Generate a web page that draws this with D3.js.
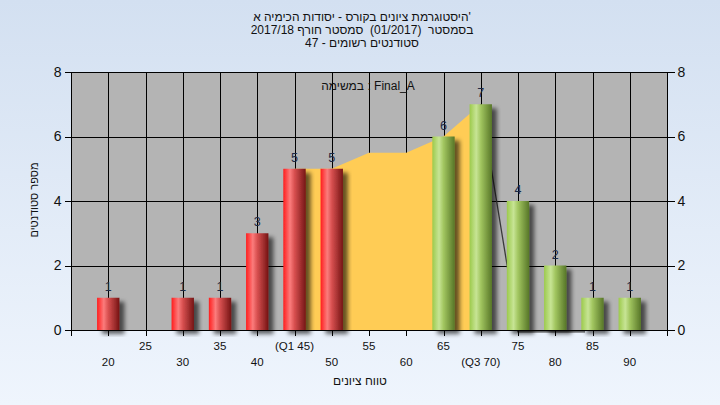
<!DOCTYPE html>
<html><head><meta charset="utf-8">
<script src="https://cdn.jsdelivr.net/npm/d3@7"></script>
<style>
html,body{margin:0;padding:0;}
body{width:720px;height:405px;overflow:hidden;}
text{font-family:"Liberation Sans",Arial,sans-serif;white-space:pre;}
</style></head>
<body>
<svg id="chart" width="720" height="405"></svg>
<script>
// ---- data ----
const categories = [20,25,30,35,40,45,50,55,60,65,70,75,80,85,90];
const counts     = [1,0,1,1,3,5,5,0,0,6,7,4,2,1,1];
const barGroups  = ["low","low","low","low","low","low","low","none","none","high","high","high","high","high","high"];
const tickLabels = ["20","25","30","35","40","(Q1 45)","50","55","60","65","(Q3 70)","75","80","85","90"];
const yTicks = [0,2,4,6,8];
const iqrX = [45,50,55,60,65,70];
const iqrY = [5,5,5.5,5.5,6,7];
const lineX = [70,75,84];
const lineY = [7,-0.06,-0.06];
const titleLines = ["היסטוגרמת ציונים בקורס - יסודות הכימיה א'","בסמסטר  (01/2017)  סמסטר חורף 2017/18","סטודנטים רשומים - 47"];
const taskLabel = "במשימה : Final_A";
const xTitle = "טווח ציונים";
const yTitle = "מספר סטודנטים";

// ---- layout ----
const W = 720, H = 405;
const P = {l:71, r:667, t:72, b:330};
const svg = d3.select("#chart");
const x = d3.scaleLinear().domain([15,95]).range([P.l,P.r]);
const y = d3.scaleLinear().domain([0,8]).range([P.b,P.t]);
const barW = x(21.5) - x(18.5);

const defs = svg.append("defs");
const bg = defs.append("linearGradient").attr("id","bg").attr("x1",0).attr("y1",0).attr("x2",0).attr("y2",1);
bg.append("stop").attr("offset","0%").attr("stop-color","#d3e0f1");
bg.append("stop").attr("offset","100%").attr("stop-color","#eff5fd");

function cyl(id, stops){
  const g = defs.append("linearGradient").attr("id",id).attr("x1",0).attr("y1",0).attr("x2",1).attr("y2",0);
  stops.forEach(s=>g.append("stop").attr("offset",s[0]).attr("stop-color",s[1]));
}
cyl("red",[["0%","#ff1c1c"],["30%","#fb7c7c"],["50%","#d85050"],["100%","#751414"]]);
cyl("green",[["0%","#9cca4c"],["30%","#c7e495"],["50%","#a2c660"],["100%","#577628"]]);

const f = defs.append("filter").attr("id","shadow").attr("x","-20%").attr("y","-20%").attr("width","160%").attr("height","140%");
f.append("feDropShadow").attr("dx",5).attr("dy",4).attr("stdDeviation",2.2).attr("flood-color","#000").attr("flood-opacity",0.6);

defs.append("clipPath").attr("id","plotclip").append("rect")
  .attr("x",P.l).attr("y",P.t).attr("width",P.r-P.l).attr("height",P.b-P.t+3);

svg.append("rect").attr("width",W).attr("height",H).attr("fill","url(#bg)");

// plot background
svg.append("rect").attr("x",P.l).attr("y",P.t).attr("width",P.r-P.l).attr("height",P.b-P.t).attr("fill","#b4b4b4");

// grid
const grid = svg.append("g").attr("stroke","#000").attr("stroke-width",1).attr("shape-rendering","crispEdges");
categories.forEach(c=>grid.append("line").attr("x1",Math.round(x(c))+0.5).attr("x2",Math.round(x(c))+0.5).attr("y1",P.t).attr("y2",P.b));
yTicks.forEach(t=>grid.append("line").attr("x1",P.l).attr("x2",P.r).attr("y1",Math.round(y(t))+0.5).attr("y2",Math.round(y(t))+0.5));

// IQR area
svg.append("path")
  .datum(iqrX.map((v,i)=>[v,iqrY[i]]))
  .attr("fill","#ffcc55")
  .attr("d", d3.area().x(d=>x(d[0])).y0(y(0)).y1(d=>y(d[1])));

// line
svg.append("path")
  .datum(lineX.map((v,i)=>[v,lineY[i]]))
  .attr("fill","none").attr("stroke","#3a3a3a").attr("stroke-width",1.3)
  .attr("clip-path","url(#plotclip)")
  .attr("d", d3.line().x(d=>x(d[0])).y(d=>y(d[1])));

// bars
const bars = categories.map((c,i)=>({c, v:counts[i], g:barGroups[i]})).filter(d=>d.v>0);
svg.append("g").selectAll("rect").data(bars).join("rect")
  .attr("x",d=>x(d.c)-barW/2).attr("width",barW)
  .attr("y",d=>y(d.v)).attr("height",d=>y(0)-y(d.v))
  .attr("fill",d=>d.g==="low"?"url(#red)":"url(#green)")
  .attr("filter","url(#shadow)");

// data labels
svg.append("g").selectAll("text").data(bars).join("text")
  .attr("x",d=>x(d.c)).attr("y",d=>y(d.v)-7)
  .attr("text-anchor","middle").attr("font-size",12.5).attr("fill","#1d2a44")
  .text(d=>d.v);

// axes frame
const frame = svg.append("g").attr("stroke","#000").attr("stroke-width",1).attr("shape-rendering","crispEdges");
frame.append("line").attr("x1",P.l).attr("x2",P.r).attr("y1",P.t+0.5).attr("y2",P.t+0.5);

const axL = svg.append("g").attr("transform",`translate(${P.l+0.5},0)`)
  .call(d3.axisLeft(y).tickValues(yTicks).tickSize(7).tickPadding(3).tickFormat(d3.format("d")));
const axR = svg.append("g").attr("transform",`translate(${P.r+0.5},0)`)
  .call(d3.axisRight(y).tickValues(yTicks).tickSize(7).tickPadding(3).tickFormat(d3.format("d")));
const axB = svg.append("g").attr("transform",`translate(0,${P.b+0.5})`)
  .call(d3.axisBottom(x).tickValues([15].concat(categories,[95])).tickSize(5).tickFormat(""));
[axL,axR,axB].forEach(a=>{
  a.selectAll(".domain").attr("stroke","#000").attr("shape-rendering","crispEdges");
  a.selectAll(".tick line").attr("stroke","#000").attr("shape-rendering","crispEdges");
  a.selectAll("text").attr("font-family","'Liberation Sans',Arial,sans-serif").attr("font-size",14).attr("fill","#111");
});
axL.select(".domain").attr("d",`M0,${P.t}V${P.b+5}`);
axR.select(".domain").attr("d",`M0,${P.t}V${P.b+5}`);
axB.select(".domain").attr("d",`M${P.l},0H${P.r}`);

// x tick labels (two rows)
svg.append("g").selectAll("text").data(categories).join("text")
  .attr("x",d=>x(d)).attr("y",(d,i)=>i%2===0?366:350)
  .attr("text-anchor","middle").attr("font-size",11.5).attr("fill","#111")
  .text((d,i)=>tickLabels[i]);

// titles
svg.append("g").selectAll("text").data(titleLines).join("text")
  .attr("x",362).attr("y",(d,i)=>21+i*13)
  .attr("text-anchor","middle").attr("font-size",12).attr("fill","#111")
  .text(d=>d);
svg.append("text").attr("x",368).attr("y",90).attr("text-anchor","middle")
  .attr("font-size",12).attr("fill","#111").text(taskLabel);
svg.append("text").attr("x",360).attr("y",385).attr("text-anchor","middle")
  .attr("font-size",12).attr("fill","#111").text(xTitle);
svg.append("text").attr("transform","translate(38,200) rotate(-90)").attr("text-anchor","middle")
  .attr("font-size",11).attr("fill","#111").text(yTitle);
</script>
</body></html>
